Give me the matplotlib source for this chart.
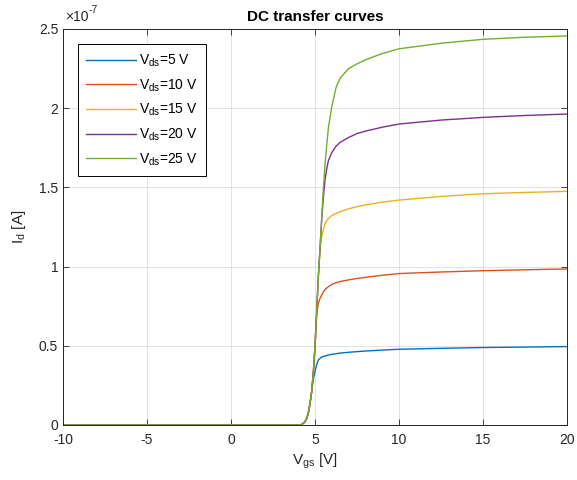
import numpy as np
import matplotlib
matplotlib.use("Agg")
import matplotlib.pyplot as plt

plt.rcParams['font.family'] = ['Liberation Sans', 'DejaVu Sans']
plt.rcParams['mathtext.default'] = 'regular'

#%% data (Id in units of 1e-7 A)
vgs = [-10, 4.0, 4.2, 4.4, 4.5, 4.6, 4.7, 4.8, 4.9, 5.0, 5.1, 5.2, 5.3, 5.4,
       5.5, 5.6, 5.7, 5.8, 6.0, 6.25, 6.5, 7.0, 7.5, 8.0, 9.0, 10, 12.5, 15,
       17.5, 20]

id_5 = [0, 0, 0.002, 0.02, 0.04, 0.075, 0.135, 0.21, 0.29, 0.34, 0.38, 0.41,
        0.421, 0.429, 0.433, 0.436, 0.439, 0.442, 0.446, 0.45, 0.454, 0.459,
        0.463, 0.467, 0.473, 0.478, 0.484, 0.489, 0.492, 0.495]
id_10 = [0, 0, 0.002, 0.02, 0.04, 0.075, 0.135, 0.21, 0.33, 0.49, 0.70, 0.77,
         0.80, 0.82, 0.84, 0.855, 0.865, 0.873, 0.887, 0.898, 0.906, 0.916,
         0.925, 0.932, 0.945, 0.956, 0.966, 0.974, 0.98, 0.985]
id_15 = [0, 0, 0.002, 0.02, 0.04, 0.075, 0.135, 0.21, 0.33, 0.5, 0.72, 0.94,
         1.11, 1.19, 1.235, 1.27, 1.29, 1.305, 1.322, 1.336, 1.347, 1.365,
         1.378, 1.39, 1.407, 1.42, 1.443, 1.46, 1.468, 1.475]
id_20 = [0, 0, 0.002, 0.02, 0.04, 0.075, 0.135, 0.21, 0.33, 0.5, 0.72, 0.94,
         1.12, 1.30, 1.44, 1.55, 1.62, 1.67, 1.72, 1.76, 1.785, 1.815, 1.84,
         1.855, 1.88, 1.90, 1.925, 1.942, 1.954, 1.963]
id_25 = [0, 0, 0.002, 0.02, 0.04, 0.075, 0.135, 0.21, 0.33, 0.5, 0.72, 0.94,
         1.12, 1.31, 1.50, 1.65, 1.77, 1.88, 2.01, 2.13, 2.19, 2.25, 2.28,
         2.305, 2.345, 2.375, 2.41, 2.435, 2.448, 2.456]

curves = [id_5, id_10, id_15, id_20, id_25]
labels = ["V$_{ds}$=5 V", "V$_{ds}$=10 V", "V$_{ds}$=15 V",
          "V$_{ds}$=20 V", "V$_{ds}$=25 V"]
colors = ["#0072BD", "#D95319", "#EDB120", "#7E2F8E", "#77AC30"]

xticks = [-10, -5, 0, 5, 10, 15, 20]
xticklabels = ["-10", "-5", "0", "5", "10", "15", "20"]
yticks = [0, 0.5, 1, 1.5, 2, 2.5]
yticklabels = ["0", "0.5", "1", "1.5", "2", "2.5"]

#%% plot
fig = plt.figure(figsize=(5.77, 4.80), dpi=100)
ax = fig.add_axes([0.1092, 0.1146, 0.8735, 0.825])

for c, lab, col in zip(curves, labels, colors):
    ax.plot(vgs, np.array(c) * 1e-7, color=col, lw=1.0, label=lab)

ax.set_xlim(-10, 20)
ax.set_ylim(0, 2.5e-7)
ax.set_xticks(xticks)
ax.set_xticklabels(xticklabels)
ax.set_yticks(np.array(yticks) * 1e-7)
ax.set_yticklabels(yticklabels)

# exponent label, MATLAB style
ax.text(0.005, 1.012, "\u00d710", transform=ax.transAxes, fontsize=10,
        color="#262626", ha="left", va="bottom")
ax.text(0.05, 1.035, "-7", transform=ax.transAxes, fontsize=7.5,
        color="#262626", ha="left", va="bottom")

ax.grid(True, color="#262626", alpha=0.15, lw=0.6)
ax.tick_params(direction="in", length=4, width=0.6, top=True, right=True,
               labelsize=10, colors="#262626")
ax.tick_params(axis="x", pad=6)
for s in ax.spines.values():
    s.set_color("#262626")
    s.set_linewidth(0.7)

ax.set_title("DC transfer curves", fontsize=11, fontweight="bold", pad=6)
ax.set_xlabel("V$_{gs}$ [V]", fontsize=11, color="#262626", labelpad=3)
ax.set_ylabel("I$_d$ [A]", fontsize=11, color="#262626", labelpad=8)

leg = ax.legend(loc="upper left", bbox_to_anchor=(0.03, 0.962), fontsize=10,
                fancybox=False, framealpha=1, edgecolor="black",
                handlelength=3.6, borderaxespad=0, labelspacing=0.6,
                handletextpad=0.2, borderpad=0.6)
leg.get_frame().set_linewidth(0.7)

plt.savefig("out.png", dpi=100)
